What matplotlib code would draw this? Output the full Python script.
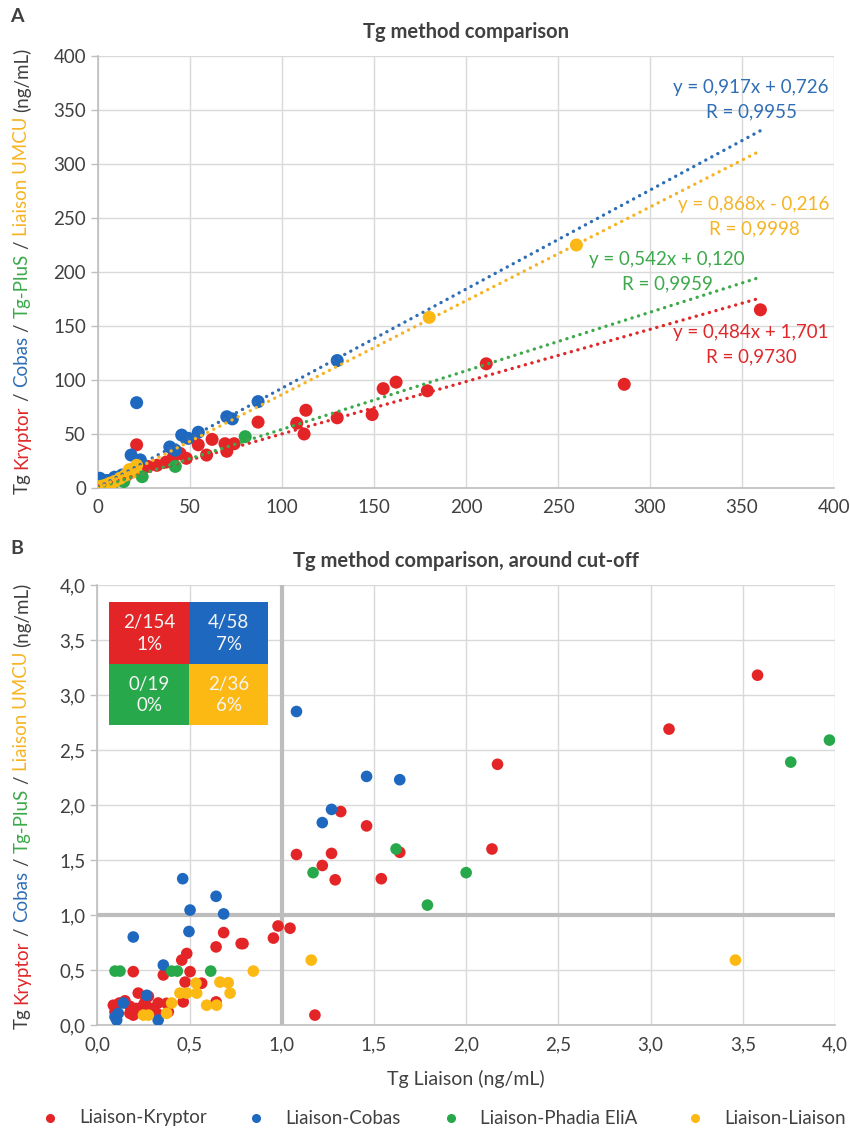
import matplotlib
matplotlib.use("Agg")
import matplotlib.pyplot as plt
import numpy as np
from matplotlib.lines import Line2D
from matplotlib.patches import Rectangle
from matplotlib.ticker import FuncFormatter, MultipleLocator

plt.rcParams['font.family'] = ['Lato', 'DejaVu Sans']

# ---------------- data ----------------
series_names = ["Liaison-Kryptor", "Liaison-Cobas", "Liaison-Phadia EliA", "Liaison-Liaison"]

# low-range values (shown in panel B, and also part of panel A)
kry_low_x = [3.58, 3.10, 2.17, 2.14, 1.32, 1.46, 1.08, 1.27, 1.64, 1.22, 1.29, 1.54, 0.98, 1.045, 0.955,
             0.79, 1.18, 0.685, 0.78, 0.644, 0.485, 0.458, 0.195, 0.358, 0.503, 0.476, 0.566, 0.466,
             0.644, 0.222, 0.277, 0.259, 0.087, 0.096, 0.177, 0.195, 0.177, 0.295, 0.322, 0.376,
             0.385, 0.23, 0.12, 0.15, 0.21, 0.25, 0.33, 0.10]
kry_low_y = [3.18, 2.69, 2.37, 1.60, 1.94, 1.81, 1.55, 1.56, 1.57, 1.45, 1.32, 1.33, 0.90, 0.88, 0.79,
             0.74, 0.09, 0.84, 0.74, 0.71, 0.65, 0.59, 0.485, 0.455, 0.485, 0.39, 0.38, 0.21,
             0.21, 0.29, 0.26, 0.21, 0.18, 0.12, 0.17, 0.09, 0.106, 0.15, 0.106, 0.197,
             0.12, 0.12, 0.20, 0.22, 0.15, 0.18, 0.20, 0.10]
cob_low_x = [1.08, 1.46, 1.64, 1.27, 1.22, 0.463, 0.644, 0.503, 0.685, 0.497, 0.195, 0.358, 0.268,
             0.141, 0.114, 0.105, 0.096, 0.33]
cob_low_y = [2.85, 2.26, 2.23, 1.96, 1.84, 1.33, 1.17, 1.045, 1.01, 0.85, 0.80, 0.545, 0.27,
             0.20, 0.106, 0.045, 0.075, 0.045]
pha_low_x = [3.97, 3.76, 1.62, 1.17, 2.00, 1.79, 0.096, 0.123, 0.403, 0.434, 0.615]
pha_low_y = [2.59, 2.39, 1.60, 1.385, 1.385, 1.09, 0.49, 0.49, 0.49, 0.49, 0.49]
lia_low_x = [3.46, 1.16, 0.846, 0.535, 0.665, 0.71, 0.539, 0.485, 0.448, 0.72, 0.593, 0.647,
             0.403, 0.376, 0.25, 0.277]
lia_low_y = [0.59, 0.59, 0.49, 0.38, 0.39, 0.385, 0.29, 0.29, 0.29, 0.29, 0.18, 0.18,
             0.20, 0.106, 0.09, 0.09]

# high-range values (only visible in panel A)
kry_high_x = [360, 286, 211, 179, 162, 155, 149, 130, 113, 108, 112, 87, 62, 54.5, 59, 69, 70, 74,
              48, 44.6, 41, 37, 32, 27, 21, 19, 15.6, 10, 8]
kry_high_y = [165, 96, 115, 90, 98, 92, 68, 65, 72, 60, 50, 61, 45, 40, 30.5, 41, 34, 41,
              27.5, 32, 29, 24, 21, 20, 40, 15, 12, 7, 5]
cob_high_x = [130, 87, 70, 73, 54.5, 45.5, 49, 39, 42, 21, 18, 23, 1, 5, 9, 13]
cob_high_y = [118, 80, 66, 64, 51.6, 49, 46, 38, 35, 79, 30.5, 26, 9, 7, 10, 12]
pha_high_x = [80, 42, 24, 14, 8, 5]
pha_high_y = [47.5, 20, 10.5, 6, 4, 3]
lia_high_x = [260, 180, 1, 3, 6.5, 9, 12, 15, 17, 19, 21, 5]
lia_high_y = [225, 158, 1.2, 2, 4.4, 6, 9, 12, 17, 15, 21, 3]

# trendline coefficients (slope, intercept) and labels
fit_slope = [0.484, 0.917, 0.542, 0.868]
fit_icept = [1.701, 0.726, 0.120, -0.216]
fit_eq = ["y = 0,484x + 1,701", "y = 0,917x + 0,726", "y = 0,542x + 0,120", "y = 0,868x - 0,216"]
fit_r = ["R = 0,9730", "R = 0,9955", "R = 0,9959", "R = 0,9998"]
fit_xmax = 360

# inset table: "misclassified / total" per comparison
table_text = ["2/154\n1%", "4/58\n7%", "0/19\n0%", "2/36\n6%"]

# ---------------- styles ----------------
dot_colors = ['#E42527', '#1F68BF', '#27A84A', '#FDB913']
txt_colors = ['#E0282A', '#2F6EB5', '#3DA94B', '#F6B424']
dark = '#404040'
grid_c = '#D9D9D9'
axis_c = '#BFBFBF'

fig = plt.figure(figsize=(8.5, 11.32), dpi=100)
W, H = 850, 1132
axA = fig.add_axes([98 / W, 1 - 488 / H, 736 / W, 432 / H])
axB = fig.add_axes([97.3 / W, 1 - 1025 / H, 737.7 / W, 440 / H])

def style_axes(ax):
    ax.set_facecolor('white')
    for s in ['top', 'right']:
        ax.spines[s].set_visible(False)
    for s in ['left', 'bottom']:
        ax.spines[s].set_color(axis_c)
        ax.spines[s].set_linewidth(1.2)
    ax.grid(True, color=grid_c, lw=1.0, zorder=0)
    ax.set_axisbelow(True)
    ax.tick_params(axis='both', colors=axis_c, labelcolor=dark, labelsize=13.5, length=5, width=1)
    ax.tick_params(axis='x', length=0, pad=8)

# ---------- panel A ----------
style_axes(axA)
xsA = [kry_high_x + kry_low_x, cob_high_x + cob_low_x, pha_high_x + pha_low_x, lia_high_x + lia_low_x]
ysA = [kry_high_y + kry_low_y, cob_high_y + cob_low_y, pha_high_y + pha_low_y, lia_high_y + lia_low_y]
order = [0, 1, 2, 3]
for i in order:
    axA.scatter(xsA[i], ysA[i], s=88, color=dot_colors[i], edgecolors='none', zorder=3)
xx = np.array([0, fit_xmax])
for i in order:
    axA.plot(xx, fit_slope[i] * xx + fit_icept[i], color=txt_colors[i], lw=2.4,
             linestyle=(0, (0.05, 2.0)), dash_capstyle='round', zorder=4)
axA.set_xlim(0, 400)
axA.set_ylim(0, 400)
axA.xaxis.set_major_locator(MultipleLocator(50))
axA.yaxis.set_major_locator(MultipleLocator(50))
axA.set_title("Tg method comparison", fontsize=14.5, fontweight='bold', color=dark, pad=13)

# equation labels (pixel positions of block centres converted to axes fractions)
eq_pos = [(751, 345), (751, 100), (667, 271.5), (754, 216.5)]
for i in range(4):
    px, py = eq_pos[i]
    fx = (px - 98) / 736
    fy = (488 - py) / 432
    axA.text(fx, fy, fit_eq[i] + "\n" + fit_r[i], transform=axA.transAxes, ha='center', va='center',
             color=txt_colors[i], fontsize=13.5, linespacing=1.55, zorder=5)

# ---------- panel B ----------
style_axes(axB)
xsB = [kry_low_x, cob_low_x, pha_low_x, lia_low_x]
ysB = [kry_low_y, cob_low_y, pha_low_y, lia_low_y]
axB.axvline(1.0, color='#BDBDBD', lw=3, zorder=1)
axB.axhline(1.0, color='#BDBDBD', lw=3, zorder=1)
for i in order:
    axB.scatter(xsB[i], ysB[i], s=70, color=dot_colors[i], edgecolors='none', zorder=3)
axB.set_xlim(0, 4)
axB.set_ylim(0, 4)
axB.xaxis.set_major_locator(MultipleLocator(0.5))
axB.yaxis.set_major_locator(MultipleLocator(0.5))
fmt = FuncFormatter(lambda v, p: f"{v:.1f}".replace('.', ','))
axB.xaxis.set_major_formatter(fmt)
axB.yaxis.set_major_formatter(fmt)
axB.set_title("Tg method comparison, around cut-off", fontsize=14.5, fontweight='bold', color=dark, pad=13)
axB.set_xlabel("Tg Liaison (ng/mL)", fontsize=14, color=dark, labelpad=12)

# inset table
x0, xm, x1 = 0.0163, 0.1245, 0.2318
y0, ym, y1 = 0.682, 0.8195, 0.9605
cells = [(x0, ym, xm - x0, y1 - ym), (xm, ym, x1 - xm, y1 - ym),
         (x0, y0, xm - x0, ym - y0), (xm, y0, x1 - xm, ym - y0)]
cell_colors = ['#E42527', '#1F68BF', '#27A84A', '#FDB913']
for (cx, cy, cw, ch), cc, tt in zip(cells, cell_colors, table_text):
    axB.add_patch(Rectangle((cx, cy), cw, ch, transform=axB.transAxes, facecolor=cc,
                            edgecolor='none', zorder=6))
    axB.text(cx + cw / 2, cy + ch / 2, tt, transform=axB.transAxes, ha='center', va='center',
             color='#F4F4F4', fontsize=13.5, linespacing=1.3, zorder=7)

# ---------- multi-colored y labels ----------
label_parts = [("Tg", dark), ("Kryptor", txt_colors[0]), ("/", dark), ("Cobas", txt_colors[1]),
               ("/", dark), ("Tg-PluS", txt_colors[2]), ("/", dark), ("Liaison UMCU", txt_colors[3]),
               ("(ng/mL)", dark)]

fig.canvas.draw()
renderer = fig.canvas.get_renderer()

def text_w(s, fs):
    t = fig.text(0, 0, s, fontsize=fs)
    w = t.get_window_extent(renderer).width
    t.remove()
    return w

def color_ylabel(ax_center_px, x_px, fs):
    sp = text_w("a a", fs) - text_w("aa", fs)
    widths = [text_w(s, fs) for s, _ in label_parts]
    total = sum(widths) + sp * (len(widths) - 1)
    y = ax_center_px - total / 2  # from bottom in pixels
    for (s, c), w in zip(label_parts, widths):
        fig.text(x_px / W, y / H, s, rotation=90, ha='center', va='bottom', color=c, fontsize=fs)
        y += w + sp

color_ylabel(1132 - 271, 22, 13.5)
color_ylabel(1132 - 806, 22, 13.5)

# panel letters
fig.text(10 / W, 1 - 16 / H, "A", fontsize=14, fontweight='bold', color=dark, va='center')
fig.text(10 / W, 1 - 549 / H, "B", fontsize=14, fontweight='bold', color=dark, va='center')

# legend (manual placement of four entries)
leg_marker_px = [50, 256, 451, 695]
leg_y = 1 - 1118 / H
for c, name, mx in zip(dot_colors, series_names, leg_marker_px):
    fig.add_artist(Line2D([mx / W], [leg_y], marker='o', ls='', color=c, markersize=5.5,
                          transform=fig.transFigure))
    fig.text((mx + 29) / W, leg_y, name, fontsize=13.5, color=dark, va='center', ha='left')

fig.savefig("out.png", dpi=100, facecolor='white')
